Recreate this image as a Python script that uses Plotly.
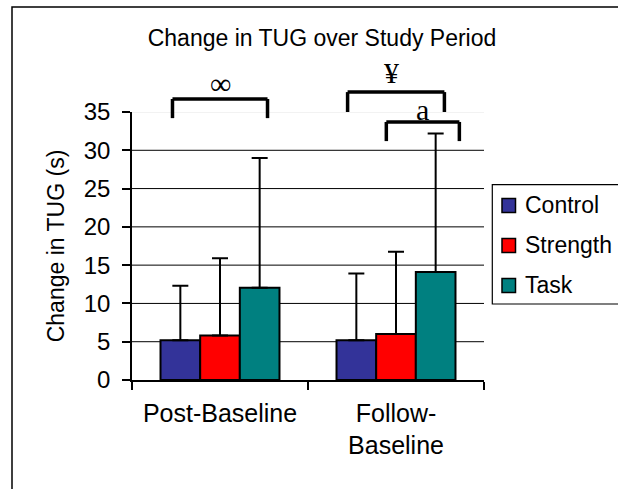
import plotly.graph_objects as go

# ---------------- data ----------------
categories = ["Post-Baseline", "Follow-<br>Baseline"]
series_names = ["Control", "Strength", "Task"]
control_vals = [5.2, 5.2]
strength_vals = [5.8, 6.0]
task_vals = [12.05, 14.1]
control_err = [7.1, 8.7]
strength_err = [10.1, 10.75]
task_err = [16.95, 18.1]
colors = ["#333399", "#FF0000", "#008080"]
y_ticks = [0, 5, 10, 15, 20, 25, 30, 35]
Y_MAX = 35

# significance brackets: (category index, left offset, right offset, top value, bottom value, label, label offset, label value)
brackets = [
    (0, -0.27, 0.27, 36.7, 34.2, "∞", 0.0, 38.7),
    (1, -0.275, 0.275, 37.6, 35.0, "¥", -0.025, 40.2),
    (1, -0.055, 0.36, 33.7, 31.2, "a", 0.15, 35.3),
]

W, H = 618, 489
ML, MR, MT, MB = 132, 134, 112, 109
PW, PH = W - ML - MR, H - MT - MB


def px_x(px):
    return (px - ML) / PW


def px_y(py):
    return (H - MB - py) / PH


fig = go.Figure()
vals = [control_vals, strength_vals, task_vals]
errs = [control_err, strength_err, task_err]
for name, v, e, c in zip(series_names, vals, errs, colors):
    fig.add_trace(go.Bar(
        x=categories, y=v, name=name,
        marker=dict(color=c, line=dict(color="black", width=2)),
        error_y=dict(type="data", array=e, arrayminus=[0] * len(e), symmetric=False,
                     color="black", thickness=2, width=8),
        showlegend=False,
    ))

shapes = []
# gridlines
for t in y_ticks[1:]:
    shapes.append(dict(type="line", xref="paper", yref="y", x0=0, x1=1, y0=t, y1=t,
                       line=dict(color="#E6E6E6" if t == Y_MAX else "black", width=1),
                       layer="below"))

annotations = []
for ci, lo, ro, top, bot, lab, loff, lval in brackets:
    xl, xr = ci + lo, ci + ro
    yt, yb = top / Y_MAX, bot / Y_MAX
    for (x0, y0, x1, y1) in [(xl, yb, xl, yt), (xl, yt, xr, yt), (xr, yt, xr, yb)]:
        shapes.append(dict(type="line", xref="x", yref="paper", x0=x0, x1=x1, y0=y0, y1=y1,
                           line=dict(color="black", width=3.5)))
    annotations.append(dict(x=ci + loff, y=lval / Y_MAX, xref="x", yref="paper", text=lab,
                            showarrow=False, xanchor="center", yanchor="middle",
                            font=dict(family="Liberation Serif", size=30, color="black")))

# manual legend
shapes.append(dict(type="rect", xref="paper", yref="paper", x0=px_x(492.3), x1=px_x(640),
                   y0=px_y(304), y1=px_y(184.7), line=dict(color="black", width=1.2),
                   fillcolor="white"))
legend_rows = [205.4, 245.4, 285.4]
for name, c, yc in zip(series_names, colors, legend_rows):
    shapes.append(dict(type="rect", xref="paper", yref="paper", x0=px_x(502), x1=px_x(515.5),
                       y0=px_y(yc + 7), y1=px_y(yc - 7), line=dict(color="black", width=1.5),
                       fillcolor=c))
    annotations.append(dict(x=px_x(523), y=px_y(yc), xref="paper", yref="paper", text=name,
                            showarrow=False, xanchor="left", yanchor="middle",
                            font=dict(family="Liberation Sans", size=23, color="black")))

# outer frame
shapes.append(dict(type="rect", xref="paper", yref="paper", x0=px_x(12), x1=px_x(660),
                   y0=px_y(520), y1=px_y(7), line=dict(color="black", width=1.5)))

fig.update_layout(
    width=W, height=H,
    margin=dict(l=ML, r=MR, t=MT, b=MB, autoexpand=False),
    paper_bgcolor="white", plot_bgcolor="white",
    barmode="group", bargap=0.324, bargroupgap=0,
    font=dict(family="Liberation Sans", color="black", size=23),
    title=dict(text="Change in TUG over Study Period", xref="container", yref="container",
               x=322 / W, y=1 - 38 / H, xanchor="center", yanchor="middle",
               font=dict(size=23, family="Liberation Sans", color="black")),
    xaxis=dict(type="category", showline=True, linecolor="black", linewidth=1.5,
               ticks="outside", ticklen=8, tickwidth=1.5, tickcolor="black",
               tickson="boundaries", showgrid=False, zeroline=False,
               tickfont=dict(size=25), automargin=False, ticklabelstandoff=10),
    yaxis=dict(range=[0, Y_MAX], tickvals=y_ticks, showline=True, linecolor="black",
               linewidth=1.5, ticks="outside", ticklen=8, tickwidth=1.5, tickcolor="black",
               showgrid=False, zeroline=False, tickfont=dict(size=24), automargin=False,
               ticklabelstandoff=7,
               title=dict(text="Change in TUG (s)", font=dict(size=23), standoff=13)),
    shapes=shapes, annotations=annotations,
)

fig.write_html("out.html", config={"displayModeBar": False},
               post_script="document.body.style.margin='0';document.body.style.overflow='hidden';")
